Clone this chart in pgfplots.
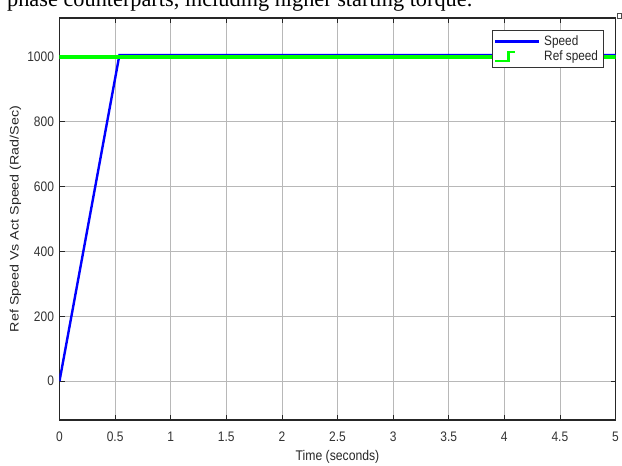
\documentclass[border=0pt]{standalone}
\usepackage{pgfplots}
\pgfplotsset{compat=1.18}
\usepackage{fontspec}
\setmainfont{Liberation Sans}
\newfontfamily\serifdoc{Liberation Serif}
\definecolor{refgreen}{RGB}{0,255,0}
\definecolor{actblue}{RGB}{0,0,255}
% labels are set slightly tall, as in the exported figure
\newcommand\tall[1]{\scalebox{1}[1.15]{#1}}
\begin{document}
\begin{tikzpicture}[x=1pt,y=1pt]
\useasboundingbox (0,0) rectangle (622,466);
% running text of the page above the figure, cut off at the top
\begin{scope}
\clip (0,0) rectangle (622,466);
\node[anchor=base west, inner sep=0pt, font=\serifdoc\fontsize{22.3}{26}\selectfont] at (7,459) {phase counterparts, including higher starting torque.};
\end{scope}
\begin{axis}[
  at={(59.5pt,46pt)}, anchor=south west,
  scale only axis, width=556pt, height=402pt,
  xmin=0, xmax=5, ymin=-120, ymax=1120,
  xtick={0,0.5,...,5}, ytick={0,200,...,1000},
  /pgf/number format/1000 sep={},
  /pgf/number format/assume math mode=true,
  xticklabel={\tall{\pgfmathprintnumber{\tick}}},
  yticklabel={\tall{\pgfmathprintnumber{\tick}}},
  grid=major,
  grid style={black!28, line width=0.6pt},
  axis line style={black!85, line width=1.2pt},
  tick style={black!85, line width=0.7pt},
  tick align=inside, major tick length=5pt,
  xtick pos=both, ytick pos=both,
  ticklabel style={font=\fontsize{12}{14}\selectfont, text=black!80},
  xticklabel shift=8pt,
  yticklabel shift=2pt,
  xlabel={\tall{Time (seconds)}},
  ylabel={\scalebox{1.17}[1]{Ref Speed Vs Act Speed (Rad/Sec)}},
  label style={font=\fontsize{12.2}{14}\selectfont, text=black!85},
  xlabel style={at={([yshift=-37pt]axis description cs:0.5,0)}, anchor=center},
  ylabel style={at={([xshift=-44pt]axis description cs:0,0.5)}, anchor=center},
  legend style={
    at={([xshift=1.5pt]axis description cs:0.775,0.970)}, anchor=north west,
    draw=black!80, line width=0.7pt, fill=white,
    font=\fontsize{11.8}{13}\selectfont, text=black!85,
    inner xsep=3pt, inner ysep=3pt, row sep=0pt, column sep=0pt,
    cells={anchor=west, inner sep=2pt},
  },
]
\addplot[actblue, line width=2.4pt,
  legend image code/.code={%
    \path[use as bounding box, draw=none, fill=none] (0pt,-5.5pt) rectangle (47pt,5.5pt);
    \draw[actblue, line width=3pt] (0pt,0pt) -- (44pt,0pt);}]
  coordinates {(0,0) (0.539,1006) (5,1006)};
\addlegendentry{\tall{Speed}}
\addplot[refgreen, line width=4pt,
  legend image code/.code={%
    \path[use as bounding box, draw=none, fill=none] (0pt,-5.5pt) rectangle (47pt,5.5pt);
    \draw[refgreen, line width=2.8pt] (0pt,-4.5pt) -- (13pt,-4.5pt) -- (13pt,4.5pt) -- (20pt,4.5pt);}]
  coordinates {(0,1000) (5,1000)};
\addlegendentry{\tall{Ref speed}}
\end{axis}
% corner marker of the figure window
\draw[black!70, line width=0.6pt, fill=white] (617.5,448) rectangle (621.5,453);
\end{tikzpicture}
\end{document}
